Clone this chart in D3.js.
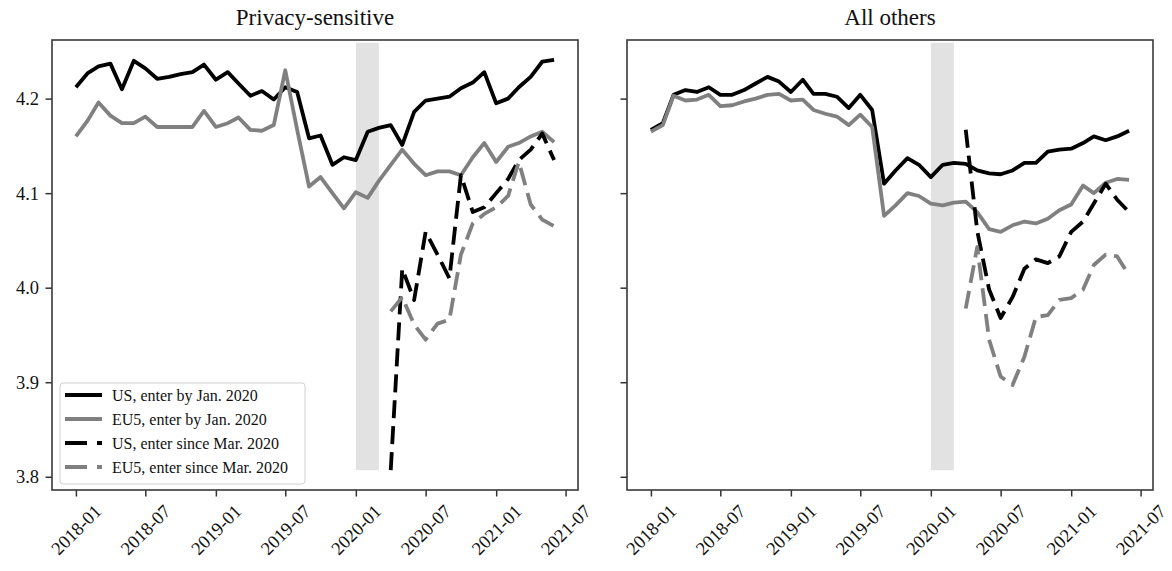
<!DOCTYPE html>
<html>
<head>
<meta charset="utf-8">
<script src="https://cdn.jsdelivr.net/npm/d3@7"></script>
<style>
  html, body { margin: 0; padding: 0; background: #fff; }
  svg { display: block; }
  text { font-family: "Liberation Serif", "Times New Roman", serif; fill: #111; }
</style>
</head>
<body>
<svg id="chart" width="1172" height="571"></svg>
<script>
// Monthly series, Jan 2018 – Jun 2021
const months = [
  "2018-01","2018-02","2018-03","2018-04","2018-05","2018-06","2018-07","2018-08","2018-09","2018-10","2018-11","2018-12",
  "2019-01","2019-02","2019-03","2019-04","2019-05","2019-06","2019-07","2019-08","2019-09","2019-10","2019-11","2019-12",
  "2020-01","2020-02","2020-03","2020-04","2020-05","2020-06","2020-07","2020-08","2020-09","2020-10","2020-11","2020-12",
  "2021-01","2021-02","2021-03","2021-04","2021-05","2021-06"
];
// Months observed for apps entering since Mar. 2020
const entrantMonths = [
  "2020-04","2020-05","2020-06","2020-07","2020-08","2020-09","2020-10","2020-11","2020-12",
  "2021-01","2021-02","2021-03","2021-04","2021-05","2021-06"
];

// Privacy-sensitive
const privacyUS = [4.212,4.227,4.234,4.237,4.210,4.240,4.232,4.221,4.223,4.226,4.228,4.236,
  4.220,4.228,4.216,4.203,4.208,4.199,4.212,4.207,4.158,4.161,4.130,4.138,
  4.135,4.165,4.169,4.172,4.151,4.186,4.198,4.200,4.202,4.211,4.217,4.228,
  4.195,4.200,4.212,4.223,4.239,4.241];
const privacyEU5 = [4.160,4.177,4.196,4.182,4.174,4.174,4.181,4.170,4.170,4.170,4.170,4.187,
  4.170,4.174,4.180,4.167,4.166,4.172,4.230,4.167,4.107,4.117,4.100,4.084,
  4.101,4.095,4.113,4.130,4.146,4.131,4.119,4.123,4.123,4.119,4.138,4.153,
  4.133,4.149,4.153,4.160,4.165,4.154];
const privacyUSNew = [3.807,4.020,3.987,4.059,4.035,4.010,4.119,4.080,4.085,4.100,4.115,4.135,4.146,4.163,4.135];
const privacyEU5New = [3.975,3.990,3.961,3.945,3.962,3.966,4.035,4.068,4.078,4.085,4.097,4.133,4.088,4.072,4.065];

// All others
const othersUS = [4.167,4.174,4.204,4.209,4.207,4.212,4.204,4.204,4.209,4.216,4.223,4.218,
  4.207,4.220,4.205,4.205,4.202,4.190,4.204,4.188,4.110,4.124,4.137,4.130,
  4.117,4.130,4.132,4.131,4.124,4.121,4.120,4.124,4.132,4.132,4.144,4.146,
  4.147,4.153,4.160,4.156,4.160,4.166];
const othersEU5 = [4.165,4.172,4.203,4.198,4.199,4.204,4.192,4.193,4.197,4.200,4.204,4.205,
  4.198,4.199,4.188,4.184,4.181,4.172,4.183,4.170,4.076,4.087,4.100,4.097,
  4.089,4.087,4.090,4.091,4.080,4.062,4.059,4.066,4.070,4.068,4.073,4.082,
  4.088,4.108,4.100,4.111,4.115,4.114];
const othersUSNew = [4.167,4.060,3.998,3.968,3.990,4.020,4.030,4.026,4.033,4.059,4.070,4.089,4.110,4.093,4.080];
const othersEU5New = [3.978,4.043,3.945,3.906,3.897,3.927,3.969,3.971,3.987,3.989,3.998,4.024,4.035,4.033,4.013];

// Shaded window (Jan.–Mar. 2020) and its vertical extent
const shadeMonths = ["2020-01", "2020-03"];
const shadeRange = [3.807, 4.259];

// Axis ticks
const xTickLabels = ["2018-01","2018-07","2019-01","2019-07","2020-01","2020-07","2021-01","2021-07"];
const yTickValues = [3.8, 3.9, 4.0, 4.1, 4.2];
const yDomain = [3.786, 4.262];

const panelTitles = ["Privacy-sensitive", "All others"];
const legendLabels = ["US, enter by Jan. 2020", "EU5, enter by Jan. 2020",
                      "US, enter since Mar. 2020", "EU5, enter since Mar. 2020"];

const parse = d3.timeParse("%Y-%m");
const styles = [
  { color: "#000000", dash: null },
  { color: "#808080", dash: null },
  { color: "#000000", dash: "18,8" },
  { color: "#808080", dash: "18,8" }
];

const svg = d3.select("#chart");
const plotTop = 40, plotBottom = 490, panelW = 526;
const panelLefts = [52, 627];
const tickFont = "18.5px";

const y = d3.scaleLinear().domain(yDomain).range([plotBottom, plotTop]);

const firstMonth = parse(months[0]), lastMonth = parse(months[months.length - 1]);
const span = lastMonth - firstMonth;
const xDomain = [new Date(+firstMonth - span * 0.05), new Date(+lastMonth + span * 0.05)];

function drawPanel(idx, seriesSolid, seriesNew, showYLabels, showLegend) {
  const left = panelLefts[idx];
  const x = d3.scaleTime().domain(xDomain).range([left, left + panelW]);
  const g = svg.append("g");

  // shaded window
  g.append("rect")
    .attr("x", x(parse(shadeMonths[0])))
    .attr("width", x(parse(shadeMonths[1])) - x(parse(shadeMonths[0])))
    .attr("y", y(shadeRange[1]))
    .attr("height", y(shadeRange[0]) - y(shadeRange[1]))
    .attr("fill", "#e2e2e2");

  const line = d3.line().x(d => x(d.date)).y(d => y(d.value));
  const all = [
    months.map((m, i) => ({ date: parse(m), value: seriesSolid[0][i] })),
    months.map((m, i) => ({ date: parse(m), value: seriesSolid[1][i] })),
    entrantMonths.map((m, i) => ({ date: parse(m), value: seriesNew[0][i] })),
    entrantMonths.map((m, i) => ({ date: parse(m), value: seriesNew[1][i] }))
  ];
  all.forEach((data, k) => {
    g.append("path")
      .datum(data)
      .attr("d", line)
      .attr("fill", "none")
      .attr("stroke", styles[k].color)
      .attr("stroke-width", 3.8)
      .attr("stroke-linejoin", "round")
      .attr("stroke-dasharray", styles[k].dash);
  });

  // x axis
  const xAxis = d3.axisBottom(x)
    .tickValues(xTickLabels.map(parse))
    .tickFormat(d3.timeFormat("%Y-%m"))
    .tickSize(6.5).tickPadding(0);
  const gx = g.append("g").attr("transform", `translate(0,${plotBottom})`).call(xAxis);
  gx.select(".domain").remove();
  gx.selectAll(".tick line").attr("stroke", "#333").attr("stroke-width", 1.5);
  gx.selectAll(".tick text")
    .attr("y", null).attr("dy", null)
    .attr("text-anchor", "middle")
    .attr("dominant-baseline", "central")
    .attr("transform", "translate(0,40) rotate(-45)")
    .style("font-size", tickFont)
    .style("font-family", "'Liberation Serif', 'Times New Roman', serif")
    .attr("fill", "#111");

  // y axis
  const yAxis = d3.axisLeft(y)
    .tickValues(yTickValues)
    .tickFormat(showYLabels ? d3.format(".1f") : () => "")
    .tickSize(6.5).tickPadding(6.5);
  const gy = g.append("g").attr("transform", `translate(${left},0)`).call(yAxis);
  gy.select(".domain").remove();
  gy.selectAll(".tick line").attr("stroke", "#333").attr("stroke-width", 1.5);
  gy.selectAll(".tick text")
    .style("font-size", tickFont)
    .style("font-family", "'Liberation Serif', 'Times New Roman', serif")
    .attr("fill", "#111");

  // frame
  g.append("rect")
    .attr("x", left).attr("y", plotTop)
    .attr("width", panelW).attr("height", plotBottom - plotTop)
    .attr("fill", "none").attr("stroke", "#3a3a3a").attr("stroke-width", 1.6);

  // title
  g.append("text")
    .attr("x", left + panelW / 2).attr("y", 25)
    .attr("text-anchor", "middle")
    .style("font-size", "23px")
    .text(panelTitles[idx]);

  if (showLegend) {
    const lg = g.append("g");
    lg.append("rect")
      .attr("x", left + 8).attr("y", 383)
      .attr("width", 245).attr("height", 101)
      .attr("rx", 3)
      .attr("fill", "#fff").attr("fill-opacity", 0.8)
      .attr("stroke", "#d0d0d0").attr("stroke-width", 1);
    const rowY = [395, 419, 443, 467];
    legendLabels.forEach((label, k) => {
      lg.append("line")
        .attr("x1", left + 13).attr("x2", left + 50)
        .attr("y1", rowY[k]).attr("y2", rowY[k])
        .attr("stroke", styles[k].color)
        .attr("stroke-width", 3.8)
        .attr("stroke-dasharray", styles[k].dash ? "22,10" : null);
      lg.append("text")
        .attr("x", left + 60).attr("y", rowY[k])
        .attr("dominant-baseline", "central")
        .style("font-size", "16px")
        .text(label);
    });
  }
}

drawPanel(0, [privacyUS, privacyEU5], [privacyUSNew, privacyEU5New], true, true);
drawPanel(1, [othersUS, othersEU5], [othersUSNew, othersEU5New], false, false);
</script>
</body>
</html>
